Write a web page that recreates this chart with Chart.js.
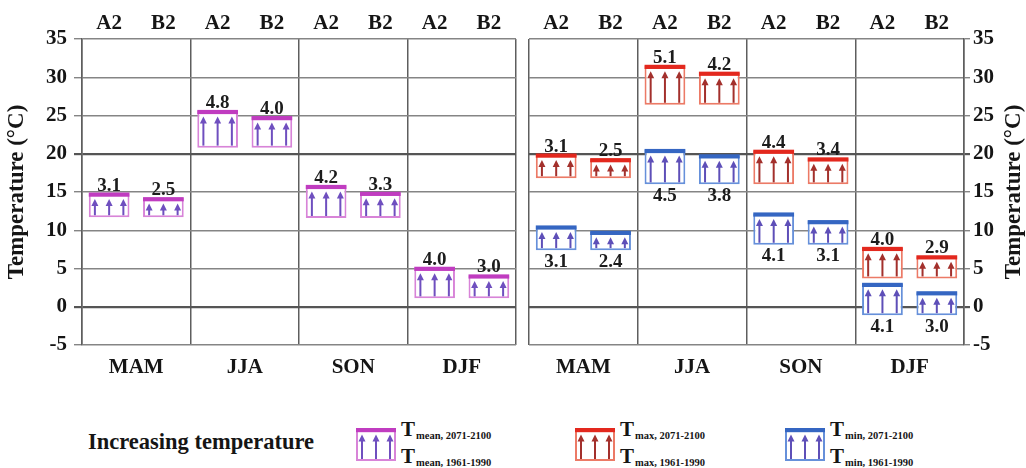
<!DOCTYPE html>
<html>
<head>
<meta charset="utf-8">
<script src="https://cdn.jsdelivr.net/npm/chart.js@4/dist/chart.umd.min.js"></script>
<style>
  html, body { margin: 0; padding: 0; background: #fff; width: 1026px; height: 468px; overflow: hidden; }
  .panel { position: absolute; top: 0; height: 390px; }
  #leftWrap { left: 0; width: 520px; }
  #rightWrap { left: 520px; width: 506px; }
  .lg { position: absolute; font-family: "Liberation Serif", "Times New Roman", serif; font-weight: bold; color: #151515; white-space: nowrap; }
  .lgTitle { font-size: 22.5px; line-height: 24px; }
  .lgLine { font-size: 21px; line-height: 20px; }
  .lgLine span { font-size: 10.5px; position: relative; top: 3px; margin-left: 1px; }
  .lgIcon { position: absolute; }
</style>
</head>
<body>
<div id="leftWrap" class="panel"><canvas id="leftChart"></canvas></div>
<div id="rightWrap" class="panel"><canvas id="rightChart"></canvas></div>

<div class="lg lgTitle" style="left:88px; top:430px;">Increasing temperature</div>
<canvas class="lgIcon" id="iconMean" width="42" height="35" style="left:355px; top:427px;"></canvas>
<div class="lg lgLine" style="left:401px; top:419px;">T<span>mean, 2071-2100</span></div>
<div class="lg lgLine" style="left:401px; top:446px;">T<span>mean, 1961-1990</span></div>
<canvas class="lgIcon" id="iconMax" width="42" height="35" style="left:574px; top:427px;"></canvas>
<div class="lg lgLine" style="left:620px; top:419px;">T<span>max, 2071-2100</span></div>
<div class="lg lgLine" style="left:620px; top:446px;">T<span>max, 1961-1990</span></div>
<canvas class="lgIcon" id="iconMin" width="42" height="35" style="left:784px; top:427px;"></canvas>
<div class="lg lgLine" style="left:830px; top:419px;">T<span>min, 2071-2100</span></div>
<div class="lg lgLine" style="left:830px; top:446px;">T<span>min, 1961-1990</span></div>

<script>
// Seasons and emission scenarios
const seasons = ['MAM', 'JJA', 'SON', 'DJF'];
const scenarios = ['A2', 'B2'];

// Seasonal means for the 1961-1990 reference period (°C)
const tmeanBase = [11.7, 20.8, 11.6, 1.1];
const tmaxBase  = [16.8, 26.4, 16.0, 3.7];
const tminBase  = [7.4, 16.0, 8.1, -1.1];

// Projected increase by 2071-2100 (°C)
const tmeanRiseA2 = [3.1, 4.8, 4.2, 4.0];
const tmeanRiseB2 = [2.5, 4.0, 3.3, 3.0];
const tmaxRiseA2  = [3.1, 5.1, 4.4, 4.0];
const tmaxRiseB2  = [2.5, 4.2, 3.4, 2.9];
const tminRiseA2  = [3.1, 4.5, 4.1, 4.1];
const tminRiseB2  = [2.4, 3.8, 3.1, 3.0];

// Temperature axis
const yMin = -5, yMax = 35, yStep = 5;

const SERIF = '"Liberation Serif", "Times New Roman", serif';
const styles = {
  mean: { frame: '#d884d8', top: '#c03cc0', arrow: '#6f4fbf' },
  max:  { frame: '#ec7a66', top: '#e3281e', arrow: '#a3302c' },
  min:  { frame: '#6690da', top: '#3566c2', arrow: '#5e4fb8' }
};

// One scenario column per season: [A2, B2, A2, B2, ...]
const columnLabels = seasons.flatMap(() => scenarios);
function spans(base, riseA2, riseB2) {
  return base.flatMap((b, i) => [[b, +(b + riseA2[i]).toFixed(2)], [b, +(b + riseB2[i]).toFixed(2)]]);
}
function rises(riseA2, riseB2) {
  return riseA2.flatMap((r, i) => [r, riseB2[i]]);
}

// Box with thick top edge and three upward arrows
function drawGlyph(ctx, l, t, w, h, st, withFrame) {
  ctx.save();
  if (withFrame) {
    ctx.fillStyle = '#fff';
    ctx.fillRect(l, t, w, h);
    ctx.strokeStyle = st.frame;
    ctx.lineWidth = 2;
    ctx.strokeRect(l + 1, t + 1, w - 2, h - 2);
  }
  ctx.fillStyle = st.top;
  ctx.fillRect(l, t - 1, w, 4.2);
  ctx.strokeStyle = st.arrow;
  ctx.fillStyle = st.arrow;
  ctx.lineWidth = 2;
  [0.15, 0.5, 0.85].forEach(f => {
    const ax = l + f * w;
    const tip = t + 5.5;
    ctx.beginPath();
    ctx.moveTo(ax, t + h - 2);
    ctx.lineTo(ax, tip + 4);
    ctx.stroke();
    ctx.beginPath();
    ctx.moveTo(ax, tip);
    ctx.lineTo(ax - 3.5, tip + 7);
    ctx.lineTo(ax + 3.5, tip + 7);
    ctx.closePath();
    ctx.fill();
  });
  ctx.restore();
}

const boxPlugin = {
  id: 'boxPlugin',
  afterDatasetsDraw(chart) {
    const ctx = chart.ctx;
    chart.data.datasets.forEach((ds, di) => {
      const meta = chart.getDatasetMeta(di);
      meta.data.forEach((el, i) => {
        const p = el.getProps(['x', 'y', 'base', 'width'], true);
        const l = p.x - p.width / 2;
        const t = Math.min(p.y, p.base);
        const b = Math.max(p.y, p.base);
        drawGlyph(ctx, l, t, p.width, b - t, styles[ds.glyph], false);
        ctx.save();
        ctx.font = 'bold 19px ' + SERIF;
        ctx.fillStyle = '#1c1c1c';
        ctx.textAlign = 'center';
        const txt = ds.rise[i].toFixed(1);
        if (ds.labelPos === 'below') {
          ctx.textBaseline = 'top';
          ctx.fillText(txt, p.x, b + 2);
        } else {
          ctx.textBaseline = 'alphabetic';
          ctx.fillText(txt, p.x, t - 3);
        }
        ctx.restore();
      });
    });
  }
};

const rightTitlePlugin = {
  id: 'rightTitle',
  afterDraw(chart, args, opts) {
    if (!opts.text) return;
    const ctx = chart.ctx;
    const a = chart.chartArea;
    ctx.save();
    ctx.translate(opts.x, (a.top + a.bottom) / 2);
    ctx.rotate(-Math.PI / 2);
    ctx.font = 'bold 23px ' + SERIF;
    ctx.fillStyle = '#151515';
    ctx.textAlign = 'center';
    ctx.textBaseline = 'middle';
    ctx.fillText(opts.text, 0, 0);
    ctx.restore();
  }
};

const tickFont = { family: SERIF, size: 21, weight: 'bold' };

function barDataset(data, rise, glyph, labelPos) {
  return {
    data, rise, glyph, labelPos,
    xAxisID: 'xs', yAxisID: 'y',
    backgroundColor: '#ffffff',
    borderColor: styles[glyph].frame,
    borderWidth: 2,
    borderSkipped: false,
    categoryPercentage: 1.0,
    barPercentage: 0.75,
    grouped: false
  };
}

function makeOptions(side) {
  const left = side === 'left';
  return {
    responsive: true,
    maintainAspectRatio: false,
    animation: false,
    events: [],
    layout: { padding: left ? { left: 0, right: 4, top: 0, bottom: 0 } : { left: 9, right: 0, top: 0, bottom: 0 } },
    plugins: {
      legend: { display: false },
      tooltip: { enabled: false },
      rightTitle: { text: left ? '' : 'Temperature (°C)', x: 494 }
    },
    scales: {
      xs: {
        type: 'category', position: 'top', labels: columnLabels, offset: true,
        grid: { display: false, drawTicks: false },
        border: { display: false },
        ticks: { font: tickFont, color: '#151515', padding: 3, autoSkip: false, maxRotation: 0 },
        afterFit(s) { s.height = 39; }
      },
      xb: {
        type: 'category', position: 'bottom', labels: seasons, offset: true,
        grid: { offset: true, color: '#5e5e5e', lineWidth: 1.5, drawTicks: false },
        border: { display: false },
        ticks: { font: tickFont, color: '#151515', padding: 10, autoSkip: false, maxRotation: 0 },
        afterFit(s) { s.height = 45; }
      },
      y: {
        position: left ? 'left' : 'right',
        min: yMin, max: yMax,
        ticks: { stepSize: yStep, font: tickFont, color: '#151515', padding: left ? 7 : 3 },
        grid: {
          color: c => (c.tick && (c.tick.value === 0 || c.tick.value === 20)) ? '#555' : '#858585',
          lineWidth: c => (c.tick && (c.tick.value === 0 || c.tick.value === 20)) ? 2.2 : 1.4,
          tickLength: left ? 8 : 6
        },
        border: { color: '#5e5e5e', width: 1.5 },
        title: {
          display: left, text: 'Temperature (°C)',
          font: { family: SERIF, size: 23, weight: 'bold' }, color: '#151515',
          padding: { top: 3, bottom: 0 }
        },
        afterFit(s) { s.width = left ? 82 : 62; }
      }
    }
  };
}

new Chart(document.getElementById('leftChart'), {
  type: 'bar',
  data: {
    labels: columnLabels,
    datasets: [barDataset(spans(tmeanBase, tmeanRiseA2, tmeanRiseB2), rises(tmeanRiseA2, tmeanRiseB2), 'mean', 'above')]
  },
  options: makeOptions('left'),
  plugins: [boxPlugin]
});

new Chart(document.getElementById('rightChart'), {
  type: 'bar',
  data: {
    labels: columnLabels,
    datasets: [
      barDataset(spans(tmaxBase, tmaxRiseA2, tmaxRiseB2), rises(tmaxRiseA2, tmaxRiseB2), 'max', 'above'),
      barDataset(spans(tminBase, tminRiseA2, tminRiseB2), rises(tminRiseA2, tminRiseB2), 'min', 'below')
    ]
  },
  options: makeOptions('right'),
  plugins: [boxPlugin, rightTitlePlugin]
});

// Legend glyphs
[['iconMean', 'mean'], ['iconMax', 'max'], ['iconMin', 'min']].forEach(([id, key]) => {
  const c = document.getElementById(id);
  drawGlyph(c.getContext('2d'), 1, 2, 40, 32, styles[key], true);
});
</script>
</body>
</html>
